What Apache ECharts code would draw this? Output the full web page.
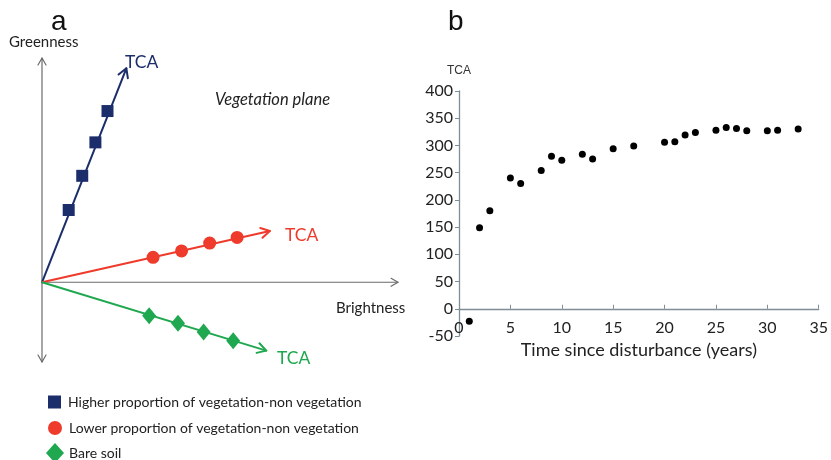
<!DOCTYPE html>
<html>
<head>
<meta charset="utf-8">
<title>TCA trajectories</title>
<script src="https://cdn.jsdelivr.net/npm/echarts@6/dist/echarts.min.js"></script>
<style>
  html, body { margin: 0; padding: 0; background: #fff; }
  #chart { width: 831px; height: 460px; }
</style>
</head>
<body>
<div id="chart"></div>
<script>
// ---- Panel a: schematic in the brightness / greenness plane ----
// Rays drawn from the origin (brightness, greenness) -> arrow tip.
var axisRays = [
  [0, 0, 100, 0],     // brightness axis
  [0, 0, 0, 63],      // greenness axis (up)
  [0, 0, 0, -22.4]    // greenness axis (down)
];
var highVegRay = [[0, 0, 23.7, 60.1]];
var lowVegRay = [[0, 0, 64.0, 14.4]];
var bareSoilRay = [[0, 0, 63.0, -19.2]];

var highVegPoints = [[7.5, 20.3], [11.3, 29.9], [15.0, 39.3], [18.4, 48.1]];
var lowVegPoints = [[31.2, 7.0], [39.2, 8.8], [47.1, 11.0], [54.8, 12.6]];
var bareSoilPoints = [[30.1, -9.4], [38.2, -11.5], [45.4, -14.0], [53.7, -16.4]];

var legendNames = [
  'Higher proportion of vegetation-non vegetation',
  'Lower proportion of vegetation-non vegetation',
  'Bare soil'
];

// ---- Panel b: TCA against time since disturbance ----
var years = [1, 2, 3, 5, 6, 8, 9, 10, 12, 13, 15, 17, 20, 21, 22, 23, 25, 26, 27, 28, 30, 31, 33];
var tcaValues = [-23, 149, 180, 240, 230, 254, 280, 273, 284, 275, 294, 299, 306, 307, 319, 324, 328, 333, 331, 327, 327, 328, 330];
var yTicks = [-50, 0, 50, 100, 150, 200, 250, 300, 350, 400];
var xTicks = [0, 5, 10, 15, 20, 25, 30, 35];

var NAVY = '#1c2d6b', RED = '#ee3b2b', GREEN = '#1fa84f', AXIS_GRAY = '#6b6b6b';
var FONT = 'Lato, "Open Sans", sans-serif';

// Open chevron arrow: a segment plus a V head at its end.
function arrowRenderer(color, width, head) {
  return function (params, api) {
    var p0 = api.coord([api.value(0), api.value(1)]);
    var p1 = api.coord([api.value(2), api.value(3)]);
    var ang = Math.atan2(p1[1] - p0[1], p1[0] - p0[0]);
    var spread = Math.PI / 6;
    var h1 = [p1[0] - head * Math.cos(ang - spread), p1[1] - head * Math.sin(ang - spread)];
    var h2 = [p1[0] - head * Math.cos(ang + spread), p1[1] - head * Math.sin(ang + spread)];
    var style = { stroke: color, lineWidth: width, fill: null, lineCap: 'round', lineJoin: 'round' };
    return {
      type: 'group',
      children: [
        { type: 'line', shape: { x1: p0[0], y1: p0[1], x2: p1[0], y2: p1[1] }, style: style },
        { type: 'polyline', shape: { points: [h1, p1, h2] }, style: style }
      ]
    };
  };
}

function raySeries(data, color, width, head, z) {
  return {
    type: 'custom',
    xAxisIndex: 0, yAxisIndex: 0,
    coordinateSystem: 'cartesian2d',
    renderItem: arrowRenderer(color, width, head),
    data: data,
    clip: false,
    silent: true,
    z: z
  };
}

// One legend block per marker type, stacked under panel a.
function legendRow(name, icon, left, top, w, h, gap) {
  return {
    orient: 'horizontal', left: left, top: top, padding: 0,
    itemWidth: w, itemHeight: h,
    selectedMode: false,
    textStyle: { color: '#222', fontSize: 14, fontFamily: FONT, padding: [0, 0, 0, gap] },
    data: [{ name: name, icon: icon }]
  };
}

var chart = echarts.init(document.getElementById('chart'), null, { renderer: 'canvas' });

chart.setOption({
  animation: false,
  backgroundColor: '#ffffff',
  textStyle: { fontFamily: FONT },
  grid: [
    { left: 42, top: 58, width: 356, height: 304 },
    { left: 459, top: 91, width: 364, height: 245 }
  ],
  xAxis: [
    { gridIndex: 0, type: 'value', min: 0, max: 100, show: false },
    {
      gridIndex: 1, type: 'value', min: 0, max: 35, interval: 5,
      axisLine: { onZero: true, lineStyle: { color: '#7f8d96', width: 1.3 } },
      axisTick: { show: true, inside: true, length: 4, lineStyle: { color: '#7f8d96' } },
      splitLine: { show: false },
      axisLabel: {
        color: '#222', fontSize: 16, margin: -16, fontFamily: FONT,
        customValues: xTicks
      },
      name: 'Time since disturbance (years)',
      nameLocation: 'middle', nameGap: 3,
      nameTextStyle: { color: '#222', fontSize: 18, fontFamily: FONT }
    }
  ],
  yAxis: [
    { gridIndex: 0, type: 'value', min: -22.4, max: 63, show: false },
    {
      gridIndex: 1, type: 'value', min: -50, max: 400, interval: 50,
      axisLine: { show: true, lineStyle: { color: '#7f8d96', width: 1.3 } },
      axisTick: { show: true, inside: false, length: 4, lineStyle: { color: '#7f8d96' } },
      splitLine: { show: false },
      axisLabel: { color: '#222', fontSize: 16, margin: 6, fontFamily: FONT, customValues: yTicks },
      name: 'TCA', nameLocation: 'end', nameGap: 14,
      nameTextStyle: { color: '#333', fontSize: 12, fontFamily: 'Liberation Sans, Arial, sans-serif', align: 'center' }
    }
  ],
  legend: [
    legendRow(legendNames[0], 'rect', 48, 395, 13, 13, 2),
    legendRow(legendNames[1], 'circle', 48, 421, 14, 14, 2),
    legendRow(legendNames[2], 'diamond', 46, 443, 18, 20, 0)
  ],
  graphic: [
    { type: 'text', left: 51, top: 8, style: { text: 'a', font: '28px "Liberation Sans", Arial, sans-serif', fill: '#111' } },
    { type: 'text', left: 448, top: 8, style: { text: 'b', font: '28px "Liberation Sans", Arial, sans-serif', fill: '#111' } },
    { type: 'text', left: 9, top: 35, style: { text: 'Greenness', font: '15px ' + FONT, fill: '#222' } },
    { type: 'text', left: 336, top: 301, style: { text: 'Brightness', font: '15px ' + FONT, fill: '#222' } },
    { type: 'text', left: 215, top: 91, style: { text: 'Vegetation plane', font: 'italic 16.5px ' + FONT, fill: '#222' } },
    { type: 'text', left: 125, top: 53, style: { text: 'TCA', font: '17.5px ' + FONT, fill: NAVY } },
    { type: 'text', left: 285, top: 226, style: { text: 'TCA', font: '17.5px ' + FONT, fill: RED } },
    { type: 'text', left: 277, top: 349, style: { text: 'TCA', font: '17.5px ' + FONT, fill: GREEN } }
  ],
  series: [
    raySeries(axisRays, AXIS_GRAY, 1.2, 8, 1),
    raySeries(highVegRay, NAVY, 2, 10, 2),
    raySeries(lowVegRay, RED, 2, 10, 2),
    raySeries(bareSoilRay, GREEN, 2, 10, 2),
    {
      name: legendNames[0], type: 'scatter', xAxisIndex: 0, yAxisIndex: 0,
      symbol: 'rect', symbolSize: 12, data: highVegPoints,
      itemStyle: { color: NAVY, opacity: 1 }, z: 3, silent: true
    },
    {
      name: legendNames[1], type: 'scatter', xAxisIndex: 0, yAxisIndex: 0,
      symbol: 'circle', symbolSize: 13, data: lowVegPoints,
      itemStyle: { color: RED, opacity: 1 }, z: 3, silent: true
    },
    {
      name: legendNames[2], type: 'scatter', xAxisIndex: 0, yAxisIndex: 0,
      symbol: 'diamond', symbolSize: [14, 17], data: bareSoilPoints,
      itemStyle: { color: GREEN, opacity: 1 }, z: 3, silent: true
    },
    {
      name: 'TCA', type: 'scatter', xAxisIndex: 1, yAxisIndex: 1,
      symbol: 'circle', symbolSize: 7,
      data: years.map(function (y, i) { return [y, tcaValues[i]]; }),
      itemStyle: { color: '#000', opacity: 1 }, z: 3, silent: true
    }
  ]
});
</script>
</body>
</html>
